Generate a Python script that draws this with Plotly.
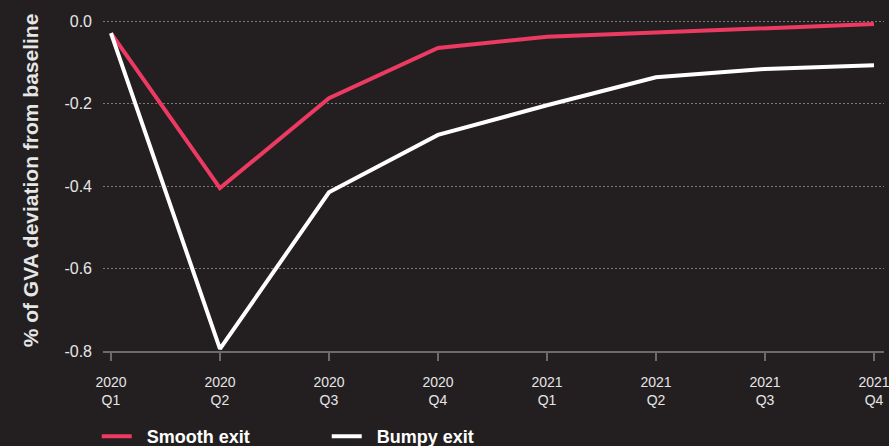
import plotly.graph_objects as go

quarters = ["2020<br>Q1", "2020<br>Q2", "2020<br>Q3", "2020<br>Q4",
            "2021<br>Q1", "2021<br>Q2", "2021<br>Q3", "2021<br>Q4"]
smooth_exit = [-0.029, -0.405, -0.187, -0.065, -0.038, -0.027, -0.017, -0.007]
bumpy_exit = [-0.029, -0.795, -0.415, -0.276, -0.204, -0.136, -0.116, -0.107]

BG = "#231f20"
PINK = "#ec3a62"
NB = "\u00a0\u00a0"
x = list(range(len(quarters)))

fig = go.Figure()
fig.add_trace(go.Scatter(x=x, y=smooth_exit, mode="lines", name=NB + "<b>Smooth exit</b>",
                         line=dict(color=PINK, width=4)))
fig.add_trace(go.Scatter(x=x, y=bumpy_exit, mode="lines", name=NB + "<b>Bumpy exit</b>",
                         line=dict(color="white", width=4)))

fig.update_layout(
    width=889, height=446,
    paper_bgcolor=BG, plot_bgcolor=BG,
    margin=dict(l=103, r=5, t=10, b=95, autoexpand=False),
    font=dict(family="Liberation Sans, Arial, sans-serif", color="#e6e6e6"),
    showlegend=True,
    legend=dict(orientation="h", x=-0.008, xanchor="left", y=-0.305, yanchor="bottom",
                font=dict(size=18, color="white", family="Liberation Sans, Arial, sans-serif"),
                entrywidth=185, entrywidthmode="pixels", bgcolor="rgba(0,0,0,0)"),
    xaxis=dict(
        range=[-0.073, 7.092], tickmode="array", tickvals=x, ticktext=quarters,
        showgrid=False, zeroline=False,
        showline=True, linecolor="#6b6b6b", linewidth=2,
        ticks="outside", ticklen=8, tickwidth=2, tickcolor="#6b6b6b",
        ticklabelstandoff=9, ticklabeloverflow="allow",
        tickfont=dict(size=14, color="#e6e6e6"),
    ),
    yaxis=dict(
        range=[-0.8, 0.027], tickvals=[0, -0.2, -0.4, -0.6, -0.8],
        ticktext=["0.0", "-0.2", "-0.4", "-0.6", "-0.8"],
        showgrid=True, gridcolor="#7a7a7a", griddash="2px,2px", gridwidth=1,
        zeroline=False, showline=False, ticks="", ticklabelstandoff=10,
        tickfont=dict(size=16, color="#e6e6e6"),
        title=dict(text="<b>% of GVA deviation from baseline</b>", standoff=20,
                   font=dict(size=21, color="#e6e6e6")),
    ),
)

fig.write_html("out.html")
